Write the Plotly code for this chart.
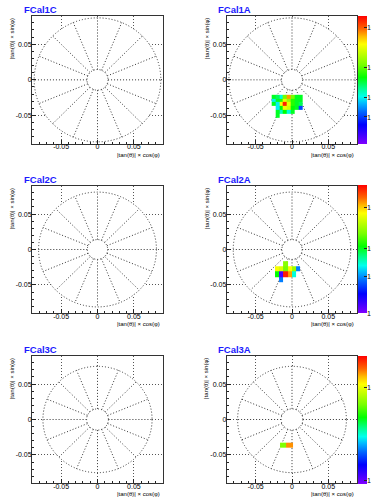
import numpy as np
import plotly.graph_objects as go

W, H = 371, 498

# ---------------- data ----------------
panel_names = ["FCal1C", "FCal1A", "FCal2C", "FCal2A", "FCal3C", "FCal3A"]
outer_radius = [0.087, 0.087, 0.081, 0.081, 0.075, 0.075]
inner_radius = [0.0145, 0.0145, 0.014, 0.014, 0.015, 0.015]
n_sectors = 16
axis_range = [-0.09, 0.09]
tick_vals = [-0.05, 0, 0.05]
tick_text = ["-0.05", "0", "0.05"]
x_title = "|tan(θ)| × cos(φ)"
y_title = "|tan(θ)| × sin(φ)"

# FCal1A cells (bin edges, values as fraction of colour range)
fcal1a_xedges = [-0.028, -0.0227, -0.0175, -0.0122, -0.0070, -0.0017, 0.0036, 0.0088, 0.0141]
fcal1a_yedges = [-0.0526, -0.0473, -0.0420, -0.0368, -0.0315, -0.0263, -0.0210]
fcal1a_z = [
    [None, 0.50, None, None, None, None, None, None],
    [None, 0.50, 0.40, 0.52, 0.38, 0.50, None, None],
    [None, 0.36, 0.52, 0.76, 0.72, 0.52, 0.50, 0.22],
    [0.50, 0.36, 0.77, 0.97, 0.75, 0.55, 0.50, 0.47],
    [0.36, 0.50, 0.55, 0.75, 0.66, 0.55, 0.50, 0.50],
    [0.50, 0.47, 0.38, 0.62, 0.86, 0.62, 0.50, 0.50],
]
fcal1a_cbticks = [0.21, 0.36, 0.60, 0.906]
fcal1a_cbtext = ["1", "10", "10²", "10³"]

# FCal2A cells
fcal2a_xedges = [-0.0234, -0.0176, -0.0118, -0.0060, -0.0002, 0.0056, 0.0114]
fcal2a_yedges = [-0.0462, -0.0390, -0.0310, -0.0235, -0.0165]
fcal2a_z = [
    [None, 0.27, None, None, None, None],
    [0.52, 0.06, 0.97, 0.86, 0.38, None],
    [0.77, 0.74, 0.62, 0.77, 0.66, 0.27],
    [None, None, 0.64, None, None, None],
]
fcal2a_cbticks = [0.0, 0.29, 0.51, 0.83]
fcal2a_cbtext = ["1", "10", "10²", "10³"]

# FCal3A cells
fcal3a_xedges = [-0.0165, -0.0080, 0.0010]
fcal3a_yedges = [-0.0392, -0.0327]
fcal3a_z = [[0.63, 0.87]]
fcal3a_cbticks = [0.02, 0.75]
fcal3a_cbtext = ["1", "10"]

root_palette = [
    [0.00, "#8000ff"], [0.07, "#4000ff"], [0.15, "#0000ff"], [0.25, "#0066ff"],
    [0.32, "#00bbff"], [0.37, "#00ffee"], [0.44, "#00ff88"], [0.52, "#00ff00"],
    [0.62, "#77ff00"], [0.72, "#ccff00"], [0.78, "#ffff00"], [0.84, "#ffbb00"],
    [0.90, "#ff6600"], [1.00, "#ff0000"],
]

# ---------------- layout geometry (pixels) ----------------
col_x = [(32.0, 163.0), (226.7, 357.3)]
row_y = [(15.7, 144.0), (185.7, 313.3), (355.7, 483.3)]

fig = go.Figure()
layout = dict(width=W, height=H, margin=dict(l=0, r=0, t=0, b=0, autoexpand=False), autosize=False,
              paper_bgcolor="white", plot_bgcolor="white", showlegend=False)
annotations = []
shapes = []

FONT = "Liberation Sans, Arial, sans-serif"
heat = {1: (fcal1a_xedges, fcal1a_yedges, fcal1a_z, fcal1a_cbticks, fcal1a_cbtext),
        3: (fcal2a_xedges, fcal2a_yedges, fcal2a_z, fcal2a_cbticks, fcal2a_cbtext),
        5: (fcal3a_xedges, fcal3a_yedges, fcal3a_z, fcal3a_cbticks, fcal3a_cbtext)}

for i, name in enumerate(panel_names):
    r, c = divmod(i, 2)
    n = i + 1
    xs = "" if n == 1 else str(n)
    x0p, x1p = col_x[c]
    y0p, y1p = row_y[r]
    axcommon = dict(range=axis_range, tickmode="array", tickvals=tick_vals, ticktext=tick_text,
                    ticks="inside", ticklen=4, tickwidth=1, tickcolor="#222",
                    minor=dict(tickmode="linear", tick0=0, dtick=0.01, ticks="inside",
                               ticklen=2, tickcolor="#222", showgrid=False),
                    showgrid=True, gridcolor="#555", griddash="1px,2px", gridwidth=1,
                    zeroline=False, showline=True, mirror=True, linecolor="#333", linewidth=1,
                    tickfont=dict(size=7, family=FONT, color="black"), fixedrange=True,
                    automargin=False)
    layout["xaxis" + xs] = dict(axcommon, domain=[x0p / W, x1p / W], anchor="y" + xs,
                                ticklabelstandoff=-4)
    layout["yaxis" + xs] = dict(axcommon, domain=[1 - y1p / H, 1 - y0p / H], anchor="x" + xs,
                                ticklabelstandoff=-2)

    xr, yr = "x" + xs, "y" + xs
    R, rin = outer_radius[i], inner_radius[i]
    dot = dict(color="#333", width=1, dash="1px,2px")
    shapes.append(dict(type="circle", xref=xr, yref=yr, x0=-R, x1=R, y0=-R, y1=R,
                       fillcolor="white", line=dict(width=0), layer="between"))
    shapes.append(dict(type="circle", xref=xr, yref=yr, x0=-R, x1=R, y0=-R, y1=R,
                       line=dot, layer="between"))
    shapes.append(dict(type="circle", xref=xr, yref=yr, x0=-rin, x1=rin, y0=-rin, y1=rin,
                       line=dot, layer="between"))
    for k in range(n_sectors):
        a = 2 * np.pi * k / n_sectors
        shapes.append(dict(type="line", xref=xr, yref=yr,
                           x0=rin * np.cos(a), y0=rin * np.sin(a),
                           x1=R * np.cos(a), y1=R * np.sin(a), line=dot, layer="between"))

    if i in heat:
        xe, ye, z, cbt, cbtx = heat[i]
        fig.add_trace(go.Heatmap(
            x=xe, y=ye, z=z, xaxis=xr, yaxis=yr, zmin=0, zmax=1, colorscale=root_palette,
            hoverinfo="skip",
            colorbar=dict(x=(x1p + 0.2) / W, xanchor="left", xpad=0, ypad=0,
                          y=1 - (y0p + y1p) / 2 / H, yanchor="middle",
                          len=(y1p - y0p) / H, lenmode="fraction", thickness=9.3,
                          outlinewidth=0, tickmode="array", tickvals=cbt,
                          ticks="inside", ticklen=3, tickcolor="#222",
                          showticklabels=False)))
        # palette axis labels (truncated by the page edge, as in the original)
        for tv, tt in zip(cbt, cbtx):
            annotations.append(dict(text=tt, xref="paper", yref="paper",
                                    x=366.2 / W, y=1 - (y1p - tv * (y1p - y0p)) / H,
                                    xanchor="left", yanchor="middle", showarrow=False,
                                    borderpad=0, font=dict(size=7, family=FONT, color="black")))
    else:
        fig.add_trace(go.Scatter(x=[None], y=[None], xaxis=xr, yaxis=yr, hoverinfo="skip"))

    # panel title
    annotations.append(dict(text="<b>%s</b>" % name, xref="paper", yref="paper",
                            x=(x0p - 10.5) / W, y=1 - (y0p - 6) / H, xanchor="left", yanchor="middle",
                            showarrow=False, font=dict(size=9.5, family=FONT, color="#1a1aff")))
    # axis titles
    annotations.append(dict(text=x_title, xref="paper", yref="paper",
                            x=(x1p - 1) / W, y=1 - (y1p + 11) / H, xanchor="right", yanchor="middle",
                            showarrow=False, font=dict(size=6, family=FONT, color="black")))
    annotations.append(dict(text=y_title, xref="paper", yref="paper", textangle=-90,
                            x=(x0p - 20.5) / W, y=1 - (y0p + 0.5) / H, xanchor="center", yanchor="top",
                            showarrow=False, font=dict(size=6, family=FONT, color="black")))

layout["annotations"] = annotations
layout["shapes"] = shapes
fig.update_layout(**layout)
fig.write_html("out.html")
